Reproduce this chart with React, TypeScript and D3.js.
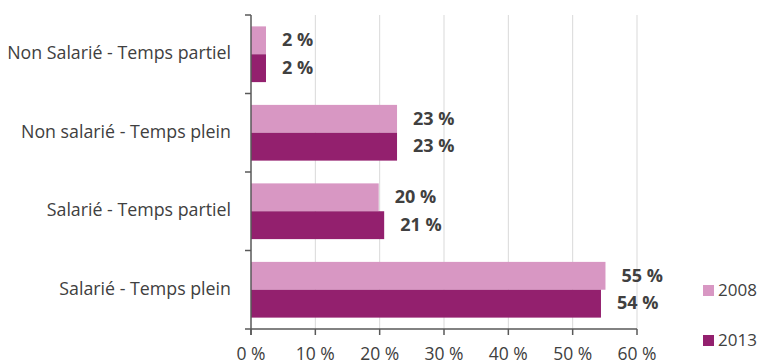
import React from "react";
import * as d3 from "d3";

const categories = [
  "Non Salarié - Temps partiel",
  "Non salarié - Temps plein",
  "Salarié - Temps partiel",
  "Salarié - Temps plein",
];
const series = ["2008", "2013"];
const values2008 = [2.33, 22.7, 19.85, 55.1];
const values2013 = [2.33, 22.7, 20.7, 54.4];
const labels2008 = ["2 %", "23 %", "20 %", "55 %"];
const labels2013 = ["2 %", "23 %", "21 %", "54 %"];
const xTicks = [0, 10, 20, 30, 40, 50, 60];
const colors = ["#D897C3", "#93206E"];

const W = 760;
const H = 361;
const FONT = "'Open Sans', 'Noto Sans', sans-serif";
const TEXT = "#404040";

export default function App() {
  const x = d3.scaleLinear().domain([0, 60]).range([251, 637]);
  const y = d3.scaleBand<string>().domain(categories).range([15, 329]).paddingInner(0.29).paddingOuter(0.145);
  const sub = d3.scaleBand<string>().domain(series).range([0, y.bandwidth()]);
  const step = y.step();
  const bandEdges = d3.range(categories.length + 1).map((i) => 15 + i * step);
  const data = [values2008, values2013];
  const labs = [labels2008, labels2013];

  return (
    <div style={{ position: "absolute", left: 0, top: 0 }}>
      <svg width={W} height={H} style={{ display: "block" }}>
        <rect width={W} height={H} fill="#fff" />
        {xTicks.slice(1).map((t) => (
          <line key={"g" + t} x1={x(t)} x2={x(t)} y1={15} y2={329} stroke="#d9d9d9" strokeWidth={1} />
        ))}
        {categories.map((c, i) =>
          series.map((s, j) => (
            <rect
              key={c + s}
              x={x(0)}
              y={(y(c) as number) + (sub(s) as number)}
              width={x(data[j][i]) - x(0)}
              height={sub.bandwidth()}
              fill={colors[j]}
            />
          ))
        )}
        {categories.map((c, i) =>
          series.map((s, j) => (
            <text
              key={"l" + c + s}
              x={x(data[j][i]) + 16}
              y={(y(c) as number) + (sub(s) as number) + sub.bandwidth() / 2 + 1}
              dominantBaseline="middle"
              fontFamily={FONT}
              fontWeight="bold"
              fontSize={18}
              fill={TEXT}
            >
              {labs[j][i]}
            </text>
          ))
        )}
        {/* y axis */}
        <line x1={251} x2={251} y1={15} y2={335} stroke="#595959" strokeWidth={1.5} />
        {bandEdges.map((e, i) => (
          <line key={"yt" + i} x1={245} x2={251} y1={e} y2={e} stroke="#595959" strokeWidth={1.5} />
        ))}
        {/* x axis */}
        <line x1={251} x2={637} y1={329} y2={329} stroke="#595959" strokeWidth={1.5} />
        {xTicks.map((t) => (
          <g key={"xt" + t}>
            <line x1={x(t)} x2={x(t)} y1={329} y2={335} stroke="#595959" strokeWidth={1.5} />
            <text x={x(t)} y={360} textAnchor="middle" fontFamily={FONT} fontSize={17.5} fill={TEXT}>
              {t + " %"}
            </text>
          </g>
        ))}
        {categories.map((c) => (
          <text
            key={"c" + c}
            x={231}
            y={(y(c) as number) + y.bandwidth() / 2}
            textAnchor="end"
            dominantBaseline="middle"
            fontFamily={FONT}
            fontSize={17.8}
            fill={TEXT}
          >
            {c}
          </text>
        ))}
        {series.map((s, j) => (
          <g key={"lg" + s}>
            <rect x={703} y={285 + j * 50} width={11} height={11} fill={colors[j]} />
            <text x={718} y={291 + j * 50} dominantBaseline="middle" fontFamily={FONT} fontSize={17} fill={TEXT}>
              {s}
            </text>
          </g>
        ))}
      </svg>
    </div>
  );
}
